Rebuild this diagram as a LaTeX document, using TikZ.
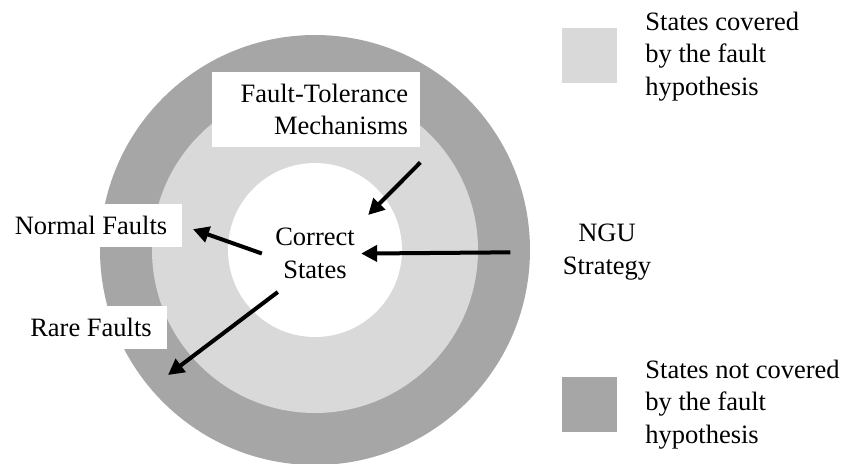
\documentclass[tikz,border=0pt]{standalone}
\usepackage{fontspec}
\setmainfont{Liberation Serif}
\usetikzlibrary{arrows.meta}
\definecolor{coveredGray}{HTML}{D9D9D9}
\definecolor{uncoveredGray}{HTML}{A6A6A6}

\begin{document}
\begin{tikzpicture}[x=0.5pt,y=-0.5pt]
    \tikzstyle{every node} = [font=\fontsize{13.25}{16.2}\selectfont]
    \tikzstyle{label box} = [fill=white, inner xsep=7.5pt, minimum height=21.5pt]
    \tikzstyle{legend box} = [rectangle, minimum size=27.5pt, inner sep=0pt]
    \tikzstyle{legend text} = [anchor=west, align=left, inner sep=0pt]
    \tikzstyle{thick arrow} = [-{Triangle[length=8pt,width=8pt]}, line width=2pt]
    \useasboundingbox (0,0) rectangle (843,463);

    % rings
    \fill[uncoveredGray] (315,250) circle [radius=107.5pt];
    \fill[coveredGray] (315,250) circle [radius=81.5pt];
    \fill[white] (315,250) circle [radius=43.5pt];

    % place nodes
    \node[align=center, inner sep=6.5pt](correctStates) at (315,253.5){Correct\\States};
    \node[label box, text width=92pt, inner xsep=6pt, minimum height=37.5pt, align=right](ftMechanisms) at (316,109.5){Fault-Tolerance\\Mechanisms};
    \node[label box](normalFaults) at (91,225.5){Normal Faults};
    \node[label box](rareFaults) at (91,327.5){Rare Faults};
    \node[align=center, inner sep=6.5pt](nguStrategy) at (607,252){NGU\\Strategy};
    \coordinate (rareTip) at (168,375);

    % legend
    \node[legend box, fill=coveredGray](legendCovered) at (589.5,55.5){};
    \node[legend text](legendCoveredText) at (645,56.5){States covered\\by the fault\\hypothesis};
    \node[legend box, fill=uncoveredGray](legendUncovered) at (589.5,404.5){};
    \node[legend text](legendUncoveredText) at (645,404.5){States not covered\\by the fault\\hypothesis};

    % Connections
    \draw[thick arrow]
    ([yshift=-7.5pt]ftMechanisms.south east)--(correctStates.north east);
    \draw[thick arrow, shorten <=19.5pt, shorten >=-3.5pt]
    (nguStrategy.west)--(correctStates.east);
    \draw[thick arrow, shorten >=5.5pt]
    (correctStates.west)--(normalFaults.east);
    \draw[thick arrow]
    (correctStates.-134)--(rareTip);

\end{tikzpicture}
\end{document}
